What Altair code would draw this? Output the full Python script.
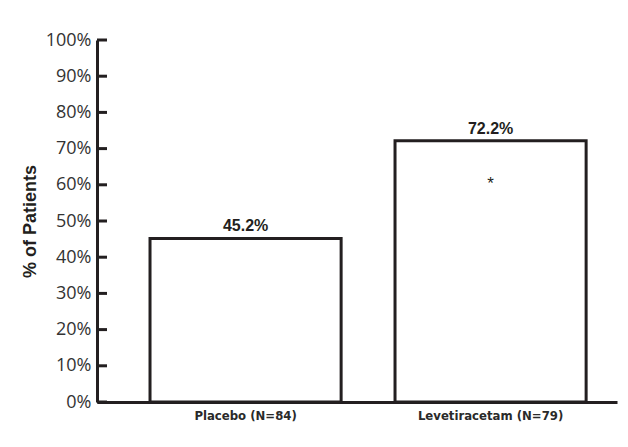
import altair as alt
import pandas as pd

groups = ["Placebo (N=84)", "Levetiracetam (N=79)"]
values = [45.2, 72.2]
value_labels = ["45.2%", "72.2%"]
notes = ["", "*"]
tick_values = [0, 10, 20, 30, 40, 50, 60, 70, 80, 90, 100]

df = pd.DataFrame({"group": groups, "value": values, "label": value_labels, "note": notes})
ticks_df = pd.DataFrame({"t": tick_values})

INK = "#231f20"
NARROW = "'DejaVu Sans Condensed', 'Liberation Sans Narrow', 'Arial Narrow', sans-serif"
YTITLE = "% of Patients"

xscale = alt.Scale(domain=groups, paddingInner=0.22, paddingOuter=0.1712, align=0.632)
yscale = alt.Scale(domain=[0, 100], nice=False)

x_enc = alt.X("group:N", scale=xscale, sort=groups, title=None)
y_enc = alt.Y("value:Q", scale=yscale, title=YTITLE)

bars = alt.Chart(df).mark_bar(fill="white", stroke=INK, strokeWidth=3).encode(x=x_enc, y=y_enc)

labels = alt.Chart(df).mark_text(
    font="Liberation Sans", fontSize=16, fontWeight="bold", color=INK,
    baseline="alphabetic", dy=-7,
).encode(x=x_enc, y=y_enc, text="label:N")

stars = alt.Chart(df).mark_text(
    font="Liberation Sans", fontSize=17, color=INK, baseline="alphabetic", dy=48,
).encode(x=x_enc, y=y_enc, text="note:N")

tick_marks = alt.Chart(ticks_df).mark_rule(color=INK, strokeWidth=3).encode(
    x=alt.value(0), x2=alt.value(10), y=alt.Y("t:Q", scale=yscale, title=YTITLE)
)

chart = alt.layer(bars, tick_marks, labels, stars).properties(
    width=520, height=362,
    autosize=alt.AutoSizeParams(type="none"),
    padding={"left": 97, "top": 40, "right": 11, "bottom": 45},
    background="white",
).configure_view(
    stroke=None
).configure_axisX(
    labelAngle=0, ticks=False, grid=False, domainWidth=3, domainColor=INK,
    labelFont=NARROW, labelFontWeight="bold", labelFontSize=13,
    labelColor="#2a2a2a", labelPadding=7,
).configure_axisY(
    values=tick_values, labelExpr="datum.value + '%'", ticks=False, grid=False,
    labelOverlap=False,
    domainWidth=3, domainColor=INK, labelFont="Open Sans", labelFontSize=18,
    labelColor="#333333", labelPadding=6,
    titleFont="Liberation Sans", titleFontSize=18, titleFontWeight="bold",
    titleColor=INK, titlePadding=6,
)

chart.save("out.html", embed_options={"renderer": "svg", "actions": False})
